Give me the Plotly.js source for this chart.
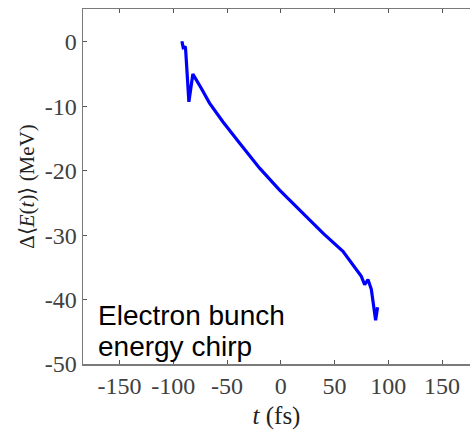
<!DOCTYPE html>
<html>
<head>
<meta charset="utf-8">
<script src="https://cdn.plot.ly/plotly-3.0.1.min.js"></script>
<style>
html,body{margin:0;padding:0;overflow:hidden;background:#fff;}
#chart{width:470px;height:431px;}
</style>
</head>
<body>
<div id="chart"></div>
<script>
// time (fs)
const timeFs = [-92, -90.8, -89.6, -88.9, -88.5, -85.5, -81.8, -78, -74, -66.3, -53.9, -38.4, -19.7, -1.1, 20.6, 39.2, 57.8, 67.1, 74.9, 78, 81.1, 84.2, 86.6, 88.2, 90];
// energy change (MeV)
const deltaE = [0.1, -0.9, -0.8, -0.7, -1.3, -9.3, -5.0, -6.0, -7.2, -9.5, -12.4, -15.7, -19.6, -23.0, -26.6, -29.7, -32.5, -34.6, -36.4, -37.7, -36.9, -38.4, -41.2, -43.2, -41.2];

const xTickVals = [-150, -100, -50, 0, 50, 100, 150];
const xTickText = ['-150', '-100', '-50', '0', '50', '100', '150'];
const yTickVals = [-50, -40, -30, -20, -10, 0];
const yTickText = ['-50', '-40', '-30', '-20', '-10', '0'];

const serif = "'Liberation Serif', 'Times New Roman', serif";
const tickFont = {family: serif, size: 24, color: '#404040'};

const trace = {
  x: timeFs, y: deltaE, type: 'scatter', mode: 'lines',
  line: {color: '#0000ff', width: 3.2},
  hoverinfo: 'skip'
};

const layout = {
  width: 470, height: 431,
  margin: {l: 83, r: 0, t: 9, b: 67},
  paper_bgcolor: '#ffffff', plot_bgcolor: '#ffffff',
  showlegend: false,
  xaxis: {
    range: [-184, 176],
    tickvals: xTickVals, ticktext: xTickText,
    ticks: 'inside', ticklen: 4, tickwidth: 1, tickcolor: '#555555',
    showline: true, linecolor: '#7a7a7a', linewidth: 1.5, mirror: 'ticks',
    showgrid: false, zeroline: false,
    tickfont: tickFont,
    title: {text: '<i>t</i> (fs)', font: {family: serif, size: 25, color: '#222222'}, standoff: 8}
  },
  yaxis: {
    range: [-50, 5.1],
    tickvals: yTickVals, ticktext: yTickText,
    ticks: 'inside', ticklen: 4, tickwidth: 1, tickcolor: '#555555',
    showline: true, linecolor: '#7a7a7a', linewidth: 1.5, mirror: false,
    showgrid: false, zeroline: false,
    tickfont: tickFont,
    title: {text: 'Δ⟨<i>E</i>(<i>t</i>)⟩ (MeV)', font: {family: serif, size: 21, color: '#222222'}, standoff: 4}
  },
  annotations: [
    {text: 'Electron bunch', xref: 'paper', yref: 'paper', x: 0.034, y: 0.138,
     xanchor: 'left', yanchor: 'middle', showarrow: false,
     font: {family: "'Liberation Sans', Arial, sans-serif", size: 28, color: '#000000'}},
    {text: 'energy chirp', xref: 'paper', yref: 'paper', x: 0.034, y: 0.048,
     xanchor: 'left', yanchor: 'middle', showarrow: false,
     font: {family: "'Liberation Sans', Arial, sans-serif", size: 28, color: '#000000'}}
  ]
};

Plotly.newPlot('chart', [trace], layout, {displayModeBar: false, staticPlot: true});
</script>
</body>
</html>
